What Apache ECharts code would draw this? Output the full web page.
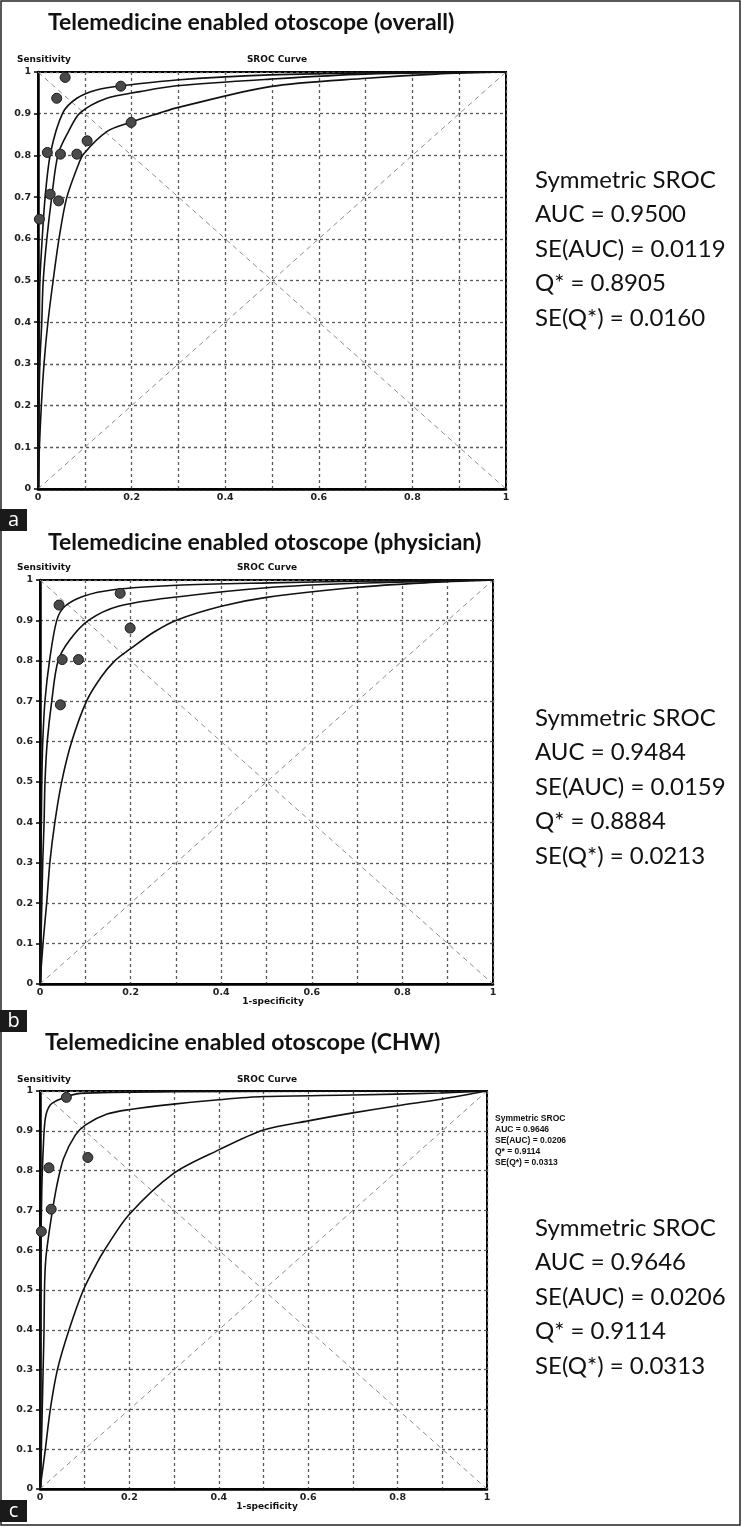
<!DOCTYPE html>
<html>
<head>
<meta charset="utf-8">
<script src="https://cdn.jsdelivr.net/npm/echarts@6/dist/echarts.min.js"></script>
<style>
  html, body { margin: 0; padding: 0; background: #fff; }
  #chart { width: 742px; height: 1527px; }
</style>
</head>
<body>
<div id="chart"></div>
<script>
// study points: [1-specificity, sensitivity]
var pointsA = [[0.058, 0.987], [0.040, 0.937], [0.177, 0.966], [0.199, 0.879], [0.105, 0.835], [0.020, 0.807],
  [0.048, 0.803], [0.083, 0.803], [0.026, 0.707], [0.044, 0.691], [0.003, 0.647]]
var pointsB = [[0.042, 0.938], [0.177, 0.967], [0.199, 0.881], [0.049, 0.803], [0.085, 0.803], [0.045, 0.691]]
var pointsC = [[0.059, 0.984], [0.107, 0.833], [0.020, 0.807], [0.025, 0.703], [0.003, 0.647]]

// SROC curve and its two bounds
var curveA1 = [[0, 0], [0.001, 0.197], [0.002, 0.302], [0.003, 0.398], [0.004, 0.497], [0.009, 0.601], [0.015, 0.697],
  [0.027, 0.807], [0.053, 0.902], [0.083, 0.937], [0.125, 0.957], [0.179, 0.967], [0.296, 0.981], [0.496, 0.993], [0.7, 0.998], [1, 1]]
var curveA2 = [[0, 0], [0.002, 0.197], [0.004, 0.302], [0.008, 0.398], [0.011, 0.497], [0.019, 0.601], [0.029, 0.697],
  [0.043, 0.803], [0.065, 0.857], [0.090, 0.902], [0.147, 0.937], [0.218, 0.953], [0.296, 0.967], [0.496, 0.983], [0.7, 0.995], [1, 1]]
var curveA3 = [[0, 0], [0.003, 0.1], [0.007, 0.197], [0.013, 0.302], [0.021, 0.398], [0.032, 0.497], [0.045, 0.601],
  [0.061, 0.697], [0.086, 0.777], [0.097, 0.803], [0.147, 0.857], [0.197, 0.879], [0.261, 0.902], [0.296, 0.914],
  [0.496, 0.965], [0.703, 0.985], [0.85, 0.995], [1, 1]]

var curveB1 = [[0, 0], [0.001, 0.2], [0.002, 0.3], [0.003, 0.4], [0.004, 0.5], [0.006, 0.597], [0.011, 0.701], [0.021, 0.8],
  [0.037, 0.9], [0.055, 0.935], [0.096, 0.96], [0.162, 0.976], [0.302, 0.987], [0.508, 0.993], [0.7, 0.997], [1, 1]]
var curveB2 = [[0, 0], [0.002, 0.1], [0.004, 0.2], [0.006, 0.3], [0.009, 0.4], [0.011, 0.5], [0.016, 0.6], [0.026, 0.701],
  [0.040, 0.8], [0.066, 0.852], [0.107, 0.9], [0.173, 0.935], [0.302, 0.958], [0.5, 0.981], [0.7, 0.992], [1, 1]]
var curveB3 = [[0, 0], [0.007, 0.105], [0.015, 0.204], [0.022, 0.303], [0.033, 0.402], [0.048, 0.501], [0.07, 0.6],
  [0.103, 0.701], [0.135, 0.76], [0.165, 0.8], [0.2, 0.83], [0.25, 0.87], [0.3, 0.9], [0.4, 0.935], [0.5, 0.957],
  [0.7, 0.982], [0.85, 0.993], [1, 1]]

var curveC1 = [[0, 0], [0.001, 0.3], [0.002, 0.6], [0.004, 0.75], [0.007, 0.849], [0.012, 0.932], [0.023, 0.965],
  [0.046, 0.98], [0.09, 0.994], [0.3, 0.998], [1, 1]]
var curveC2 = [[0, 0], [0.003, 0.1], [0.005, 0.2], [0.007, 0.3], [0.009, 0.4], [0.010, 0.5], [0.012, 0.563], [0.015, 0.6],
  [0.025, 0.68], [0.038, 0.764], [0.053, 0.831], [0.079, 0.889], [0.102, 0.915], [0.15, 0.942], [0.198, 0.953],
  [0.299, 0.967], [0.4, 0.978], [0.5, 0.986], [0.7, 0.99], [0.894, 0.995], [1, 1]]
var curveC3 = [[0, 0], [0.012, 0.1], [0.023, 0.2], [0.039, 0.3], [0.065, 0.4], [0.097, 0.5], [0.127, 0.567], [0.144, 0.6],
  [0.198, 0.688], [0.299, 0.793], [0.4, 0.852], [0.5, 0.902], [0.6, 0.925], [0.7, 0.945], [0.8, 0.963], [0.9, 0.98], [1, 1]]

var diagUp = [[0, 0], [1, 1]]
var diagDown = [[0, 1], [1, 0]]

var titles = ['Telemedicine enabled otoscope (overall)', 'Telemedicine enabled otoscope (physician)', 'Telemedicine enabled otoscope (CHW)']
var statsA = ['Symmetric SROC', 'AUC = 0.9500', 'SE(AUC) = 0.0119', 'Q* = 0.8905', 'SE(Q*) = 0.0160']
var statsB = ['Symmetric SROC', 'AUC = 0.9484', 'SE(AUC) = 0.0159', 'Q* = 0.8884', 'SE(Q*) = 0.0213']
var statsC = ['Symmetric SROC', 'AUC = 0.9646', 'SE(AUC) = 0.0206', 'Q* = 0.9114', 'SE(Q*) = 0.0313']

var chart = echarts.init(document.getElementById('chart'))

var panels = [
  { grid: { left: 38, top: 72, width: 468, height: 417 }, points: pointsA, curves: [curveA1, curveA2, curveA3] },
  { grid: { left: 40, top: 580, width: 453, height: 404 }, points: pointsB, curves: [curveB1, curveB2, curveB3] },
  { grid: { left: 40, top: 1091, width: 447, height: 398 }, points: pointsC, curves: [curveC1, curveC2, curveC3] }
]

var tickFont = { fontFamily: 'DejaVu Sans', fontWeight: 'bold', fontSize: 9.5, color: '#222' }

function tenth(v) {
  var t = Math.round(v * 10)
  if (t === 0) return '0'
  if (t === 10) return '1'
  return (t / 10).toFixed(1)
}

var grids = []
var xAxes = []
var yAxes = []
var series = []

panels.forEach(function (p, i) {
  grids.push(Object.assign({ show: true, borderColor: '#000', borderWidth: 2, containLabel: false }, p.grid))
  xAxes.push({
    type: 'value', gridIndex: i, min: 0, max: 1, interval: 0.1,
    axisLine: { lineStyle: { color: '#000', width: 2.5 } },
    axisTick: { show: false },
    axisLabel: Object.assign({ margin: 4, formatter: function (v) { return Math.round(v * 10) % 2 ? '' : tenth(v) } }, tickFont),
    splitLine: { lineStyle: { color: '#5a5a5a', width: 1.3, type: [3, 3] } }
  })
  yAxes.push({
    type: 'value', gridIndex: i, min: 0, max: 1, interval: 0.1,
    axisLine: { lineStyle: { color: '#000', width: 2.5 } },
    axisTick: { show: true, length: 4, lineStyle: { color: '#000', width: 1.5 } },
    axisLabel: Object.assign({ margin: 7, formatter: tenth }, tickFont),
    splitLine: { lineStyle: { color: '#5a5a5a', width: 1.3, type: [3, 3] } }
  })
  ;[diagUp, diagDown].forEach(function (d) {
    series.push({
      type: 'line', xAxisIndex: i, yAxisIndex: i, data: d, symbol: 'none', silent: true,
      lineStyle: { color: '#8c8c8c', width: 1, type: [5, 4] }
    })
  })
  p.curves.forEach(function (c) {
    series.push({
      type: 'line', xAxisIndex: i, yAxisIndex: i, data: c, symbol: 'none', smooth: 0.3,
      lineStyle: { color: '#111', width: 1.6 }, z: 3
    })
  })
  series.push({
    type: 'scatter', xAxisIndex: i, yAxisIndex: i, data: p.points, symbolSize: 10, z: 4,
    itemStyle: { color: '#4a4a4a', borderColor: '#1a1a1a', borderWidth: 1, opacity: 1 }
  })
})

function txt(x, y, s, font, align, color) {
  return {
    type: 'text', silent: true, z: 10,
    style: { x: x, y: y, text: s, font: font, fill: color || '#111', textAlign: align || 'left', align: align || 'left', textVerticalAlign: 'middle', verticalAlign: 'middle' }
  }
}

var graphics = []
var bigFont = '24px Lato'
var titleFont = 'bold 23px Lato'
var smallBold = 'bold 9px "DejaVu Sans"'

// titles
graphics.push(txt(48, 23, titles[0], titleFont))
graphics.push(txt(48, 543, titles[1], titleFont))
graphics.push(txt(45, 1043, titles[2], titleFont))

// axis captions
var capY = [60, 568, 1080]
var capX = [277, 267, 267]
capY.forEach(function (y, i) {
  graphics.push(txt(17, y, 'Sensitivity', smallBold))
  graphics.push(txt(capX[i], y, 'SROC Curve', smallBold, 'center'))
})
graphics.push(txt(273, 1002, '1-specificity', smallBold, 'center'))
graphics.push(txt(267, 1507, '1-specificity', smallBold, 'center'))

// big stats blocks
var statTops = [180, 718, 1228]
;[statsA, statsB, statsC].forEach(function (lines, i) {
  lines.forEach(function (s, j) {
    graphics.push(txt(535, statTops[i] + j * 34.5, s, bigFont))
  })
})

// small stats inside panel c
statsC.forEach(function (s, j) {
  graphics.push(txt(495, 1119 + j * 11, s, 'bold 8.5px "Liberation Sans"'))
})

// panel letters
var letters = [['a', 509], ['b', 1010], ['c', 1500]]
letters.forEach(function (l) {
  graphics.push({ type: 'rect', silent: true, z: 10, shape: { x: 0, y: l[1], width: 27, height: 22 }, style: { fill: '#1a1a1a' } })
  graphics.push(txt(13.5, l[1] + 11, l[0], '20px "Open Sans"', 'center', '#fff'))
})

// outer frame
graphics.push({ type: 'rect', silent: true, z: 9, shape: { x: 1, y: 1, width: 739, height: 1524 }, style: { fill: 'none', stroke: '#222', lineWidth: 1.5 } })

chart.setOption({
  animation: false,
  backgroundColor: '#fff',
  grid: grids,
  xAxis: xAxes,
  yAxis: yAxes,
  series: series,
  graphic: graphics
})
</script>
</body>
</html>
